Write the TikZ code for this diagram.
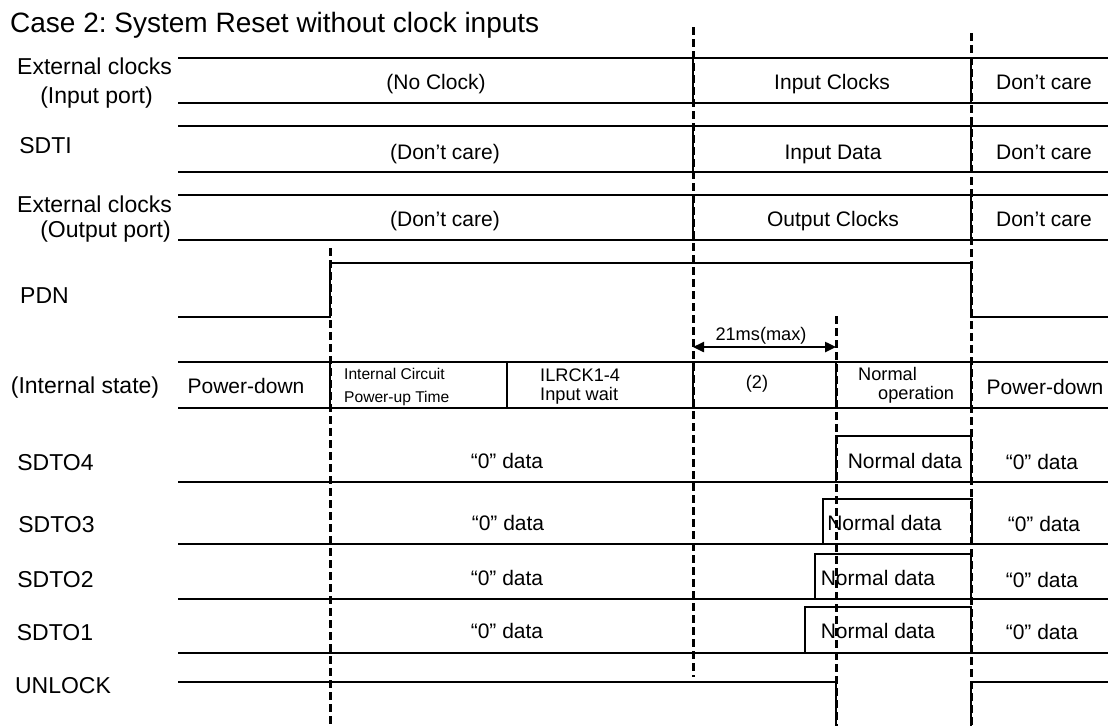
\documentclass[tikz,border=0pt]{standalone}
\usepackage{fontspec}
\setmainfont{Liberation Sans}
\usetikzlibrary{arrows.meta}
\frenchspacing
\begin{document}
\begin{tikzpicture}[x=1pt,y=-1pt,
  sig/.style={line width=2pt},
  thin sig/.style={line width=1.6pt},
  dashline/.style={line width=3pt, dash pattern=on 7.5pt off 4.5pt},
  lbl/.style={font=\fontsize{23}{27}\selectfont, inner sep=0pt, anchor=base},
  rowtxt/.style={font=\fontsize{21}{25}\selectfont, inner sep=0pt, anchor=base},
  smalltxt/.style={font=\fontsize{18.2}{22}\selectfont, inner sep=0pt, anchor=base},
  tinytxt/.style={font=\fontsize{15.6}{19}\selectfont, inner sep=0pt, anchor=base west},
  titletxt/.style={font=\fontsize{28}{32}\selectfont, inner sep=0pt, anchor=base west},
  dimarrow/.style={line width=2.4pt, {Triangle[length=11pt,width=10pt]}-{Triangle[length=11pt,width=10pt]}}
]
\fill[white] (0,0) rectangle (1110,726);
\useasboundingbox (0,0) rectangle (1110,726);

% title
\node[titletxt] (title) at (10,32) {Case 2: System Reset without clock inputs};

% left labels
\node[lbl] (ext1a) at (94.5,74) {External clocks};
\node[lbl] (ext1b) at (96.5,103) {(Input port)};
\node[lbl] (sdti) at (45.5,153) {SDTI};
\node[lbl] (ext2a) at (94.5,212) {External clocks};
\node[lbl] (ext2b) at (105.5,237) {(Output port)};
\node[lbl] (pdn) at (44.5,303) {PDN};
\node[lbl] (istate) at (85,393) {(Internal state)};
\node[lbl] (sdto4) at (55.5,470) {SDTO4};
\node[lbl] (sdto3) at (56.5,532) {SDTO3};
\node[lbl] (sdto2) at (55.5,587) {SDTO2};
\node[lbl] (sdto1) at (55,640) {SDTO1};
\node[lbl] (unlock) at (63,693) {UNLOCK};

% rows 1-3 (buses)
\foreach \t/\b in {58/103, 126/172, 195/240} {
  \draw[sig] (178,\t) -- (1108,\t);
  \draw[sig] (178,\b) -- (1108,\b);
  \draw[sig] (693,\t) -- (693,\b);
  \draw[sig] (971,\t) -- (971,\b);
}
\node[rowtxt] (noclk) at (436,89) {(No Clock)};
\node[rowtxt] (dc1) at (445,159) {(Don’t care)};
\node[rowtxt] (dc2) at (445,226) {(Don’t care)};
\node[rowtxt] (inclk) at (832,89) {Input Clocks};
\node[rowtxt] (indata) at (833,159) {Input Data};
\node[rowtxt] (outclk) at (833,226) {Output Clocks};
\node[rowtxt] (dcr1) at (1044,89) {Don’t care};
\node[rowtxt] (dcr2) at (1044,159) {Don’t care};
\node[rowtxt] (dcr3) at (1044,226) {Don’t care};

% PDN
\draw[sig] (178,317) -- (330,317) -- (330,263) -- (971,263) -- (971,317) -- (1108,317);

% 21ms arrow
\coordinate (a1) at (693,347);
\coordinate (a2) at (836,347);
\draw[dimarrow] (a1) -- (a2);
\node[smalltxt] (t21) at (761,340) {21ms(max)};

% internal state row
\draw[sig] (178,362) -- (1108,362);
\draw[sig] (178,408) -- (1108,408);
\foreach \x in {330,693,836,971} { \draw[sig] (\x,362) -- (\x,408); }
\draw[thin sig] (507,362) -- (507,408);
\node[rowtxt] (pd1) at (246,393) {Power-down};
\node[tinytxt] (icirc) at (344,379) {Internal Circuit};
\node[tinytxt] (putime) at (344,402) {Power-up Time};
\node[smalltxt, anchor=base west] (ilrck) at (540,381) {ILRCK1-4};
\node[smalltxt, anchor=base west] (inwait) at (540,400) {Input wait};
\node[smalltxt] (two) at (757,388) {(2)};
\node[smalltxt, anchor=base west] (normal) at (858,380) {Normal};
\node[smalltxt, anchor=base west] (oper) at (878,399) {operation};
\node[rowtxt] (pd2) at (1045,394) {Power-down};

% SDTO rows
\draw[sig] (178,482) -- (1108,482);
\draw[sig] (836,482) -- (836,436) -- (971,436) -- (971,482);
\draw[sig] (178,544) -- (1108,544);
\draw[sig] (823,544) -- (823,499) -- (972,499) -- (972,544);
\draw[sig] (178,599) -- (1108,599);
\draw[sig] (815,599) -- (815,554) -- (971,554) -- (971,599);
\draw[sig] (178,653) -- (1108,653);
\draw[sig] (805,653) -- (805,607) -- (971,607) -- (971,653);

\node[rowtxt] (z4) at (507,468) {“0” data};
\node[rowtxt] (z3) at (508,530) {“0” data};
\node[rowtxt] (z2) at (507,585) {“0” data};
\node[rowtxt] (z1) at (507,638) {“0” data};
\node[rowtxt] (n4) at (905,468) {Normal data};
\node[rowtxt] (n3) at (884.5,530) {Normal data};
\node[rowtxt] (n2) at (878,585) {Normal data};
\node[rowtxt] (n1) at (878,638) {Normal data};
\node[rowtxt] (zr4) at (1042,469) {“0” data};
\node[rowtxt] (zr3) at (1044,531) {“0” data};
\node[rowtxt] (zr2) at (1042,587) {“0” data};
\node[rowtxt] (zr1) at (1042,639) {“0” data};

% UNLOCK
\draw[thin sig] (178,682) -- (836,682) -- (836,726);
\draw[thin sig] (971,726) -- (971,682) -- (1108,682);

% dashed time markers
\draw[dashline] (330,248) -- (330,726);
\draw[dashline] (693,27) -- (693,677);
\draw[dashline] (836,316) -- (836,726);
\draw[dashline] (971,33) -- (971,726);
\end{tikzpicture}
\end{document}
